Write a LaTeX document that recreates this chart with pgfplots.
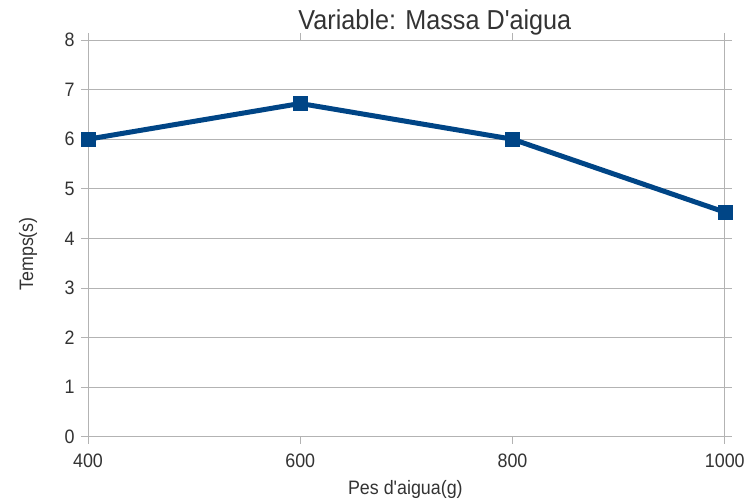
\documentclass[border=0pt]{standalone}
\usepackage{pgfplots}
\pgfplotsset{compat=1.18}
\usepackage{fontspec}
\setmainfont{Liberation Sans}[FakeStretch=0.92, Ligatures=TeXOff]
\definecolor{lineblue}{HTML}{004586}
\definecolor{gridgray}{HTML}{B3B3B3}
\definecolor{txt}{HTML}{333333}
\begin{document}
\begin{tikzpicture}
\begin{axis}[
  at={(0,0)}, anchor=south west,
  scale only axis,
  width=637bp, height=397bp,
  xmin=400, xmax=1000, ymin=0, ymax=8,
  xtick={400,600,800,1000},
  ytick={0,1,2,3,4,5,6,7,8},
  axis line style={draw=none},
  ymajorgrids, major grid style={gridgray, line width=0.8pt},
  tick style={gridgray, line width=0.8pt},
  tick align=outside,
  major tick length=7bp,
  xticklabel style={font=\fontsize{19.5}{19.5}\selectfont, text=txt, yshift=-7bp},
  yticklabel style={font=\fontsize{19.5}{19.5}\selectfont, text=txt, xshift=-3bp},
  /pgf/number format/assume math mode=true,
  /pgf/number format/1000 sep={},
  clip=false,
]
\draw[gridgray, line width=0.8pt] (axis cs:400,0) -- (axis cs:400,8);
\draw[gridgray, line width=0.8pt] (axis cs:1000,0) -- (axis cs:1000,8);
\addplot[lineblue, line width=5bp, mark=square*, mark size=7bp, mark options={solid, line width=0.5pt}] coordinates {
  (400,6.0) (600,6.72) (800,6.0) (1000,4.53)
};
\end{axis}
\node[font=\fontsize{27.5}{27.5}\selectfont, text=txt, anchor=base] at (347bp,407bp) {Variable: Massa D'aigua};
\node[font=\fontsize{19.5}{19.5}\selectfont, text=txt, anchor=base] at (317.5bp,-58bp) {Pes d'aigua(g)};
\node[font=\fontsize{19.5}{19.5}\selectfont, text=txt, rotate=90] at (-60bp,183bp) {Temps(s)};
\path[use as bounding box] (-88bp,-65bp) rectangle (660bp,437bp);
\end{tikzpicture}
\end{document}
